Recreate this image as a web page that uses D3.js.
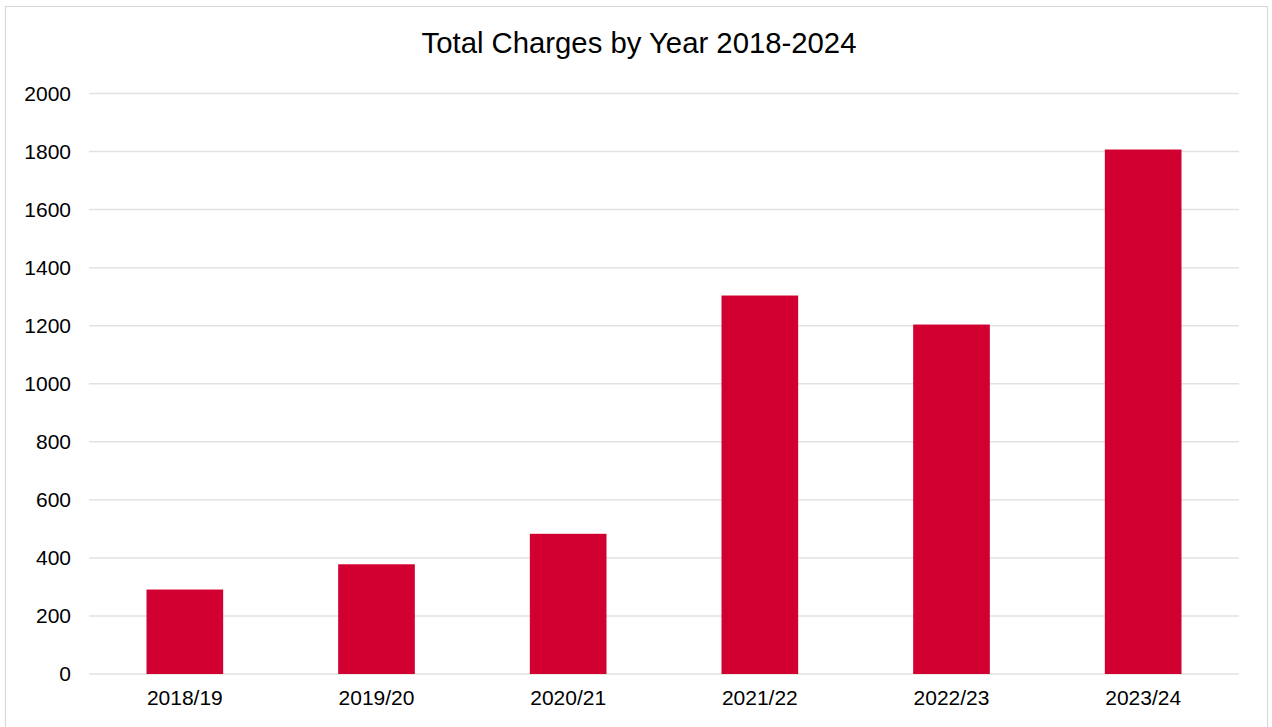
<!DOCTYPE html>
<html>
<head>
<meta charset="utf-8">
<script src="https://cdn.jsdelivr.net/npm/d3@7"></script>
<style>
  html, body { margin: 0; padding: 0; background: #ffffff; }
  svg { display: block; font-family: "Liberation Sans", Arial, sans-serif; }
</style>
</head>
<body>
<svg id="chart" width="1272" height="727"></svg>
<script>
// Financial years and total charges per year
const years = ["2018/19", "2019/20", "2020/21", "2021/22", "2022/23", "2023/24"];
const charges = [291, 378, 483, 1304, 1204, 1807];
const yTicks = [0, 200, 400, 600, 800, 1000, 1200, 1400, 1600, 1800, 2000];
const chartTitle = "Total Charges by Year 2018-2024";

const W = 1272, H = 727;
const margin = { left: 89, right: 33, top: 93.5, bottom: 53 };
const svg = d3.select("#chart");

// outer chart frame
svg.append("rect")
  .attr("x", 5.5).attr("y", 6.5)
  .attr("width", 1262).attr("height", 722)
  .attr("fill", "#ffffff")
  .attr("stroke", "#d9d9d9").attr("stroke-width", 1.2);

const x = d3.scaleBand()
  .domain(years)
  .range([margin.left, W - margin.right])
  .paddingInner(0.6)
  .paddingOuter(0.3);

const y = d3.scaleLinear()
  .domain([0, 2000])
  .range([H - margin.bottom, margin.top]);

// horizontal gridlines
svg.append("g")
  .selectAll("line")
  .data(yTicks)
  .join("line")
  .attr("x1", margin.left).attr("x2", W - margin.right)
  .attr("y1", d => y(d)).attr("y2", d => y(d))
  .attr("stroke", "#e2e2e2").attr("stroke-width", 1.5);

// y axis labels
const yAxis = svg.append("g")
  .attr("transform", `translate(${margin.left},0)`)
  .call(d3.axisLeft(y).tickValues(yTicks).tickSize(0).tickPadding(18).tickFormat(d3.format("d")));
yAxis.select(".domain").remove();
yAxis.selectAll("text")
  .attr("font-size", 21)
  .attr("fill", "#000000")
  .attr("font-family", "Liberation Sans, Arial, sans-serif");

// bars
svg.append("g")
  .selectAll("rect")
  .data(years.map((yr, i) => ({ yr, v: charges[i] })))
  .join("rect")
  .attr("x", d => x(d.yr))
  .attr("width", x.bandwidth())
  .attr("y", d => y(d.v))
  .attr("height", d => y(0) - y(d.v))
  .attr("fill", "#d20030");

// x axis labels
const xAxis = svg.append("g")
  .attr("transform", `translate(0,${y(0)})`)
  .call(d3.axisBottom(x).tickSize(0).tickPadding(16));
xAxis.select(".domain").remove();
xAxis.selectAll("text")
  .attr("font-size", 21)
  .attr("fill", "#000000")
  .attr("font-family", "Liberation Sans, Arial, sans-serif");

// title
svg.append("text")
  .attr("x", 639).attr("y", 52.5)
  .attr("text-anchor", "middle")
  .attr("font-size", 29.3)
  .attr("fill", "#000000")
  .text(chartTitle);
</script>
</body>
</html>
